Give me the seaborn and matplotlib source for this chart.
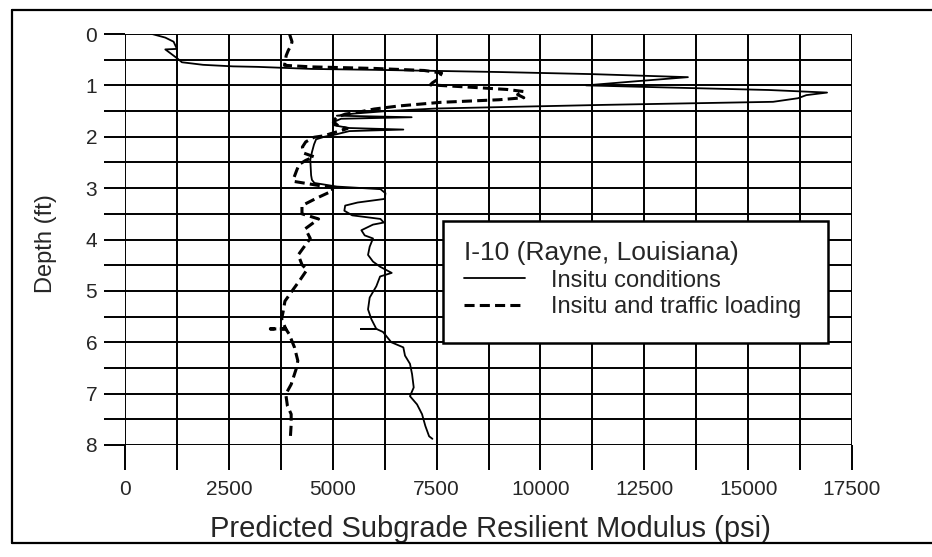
import numpy as np
import pandas as pd
import seaborn as sns
import matplotlib as mpl
import matplotlib.pyplot as plt
from matplotlib.patches import Rectangle
from matplotlib.lines import Line2D
from matplotlib.ticker import MultipleLocator

# values (depth in ft, modulus in psi)
depth_insitu = [0.00, 0.07, 0.15, 0.29, 0.30, 0.47, 0.55, 0.60, 0.63, 0.64, 0.66, 0.68,
                0.70, 0.74, 0.78, 0.84, 0.92, 1.00, 1.04, 1.09, 1.14, 1.19, 1.25, 1.32,
                1.38, 1.45, 1.50, 1.55, 1.59, 1.62, 1.65, 1.72, 1.78, 1.83, 1.86, 1.89,
                1.95, 2.00, 2.05, 2.15, 2.30, 2.45, 2.60, 2.75, 2.84, 2.90, 2.97, 3.02,
                3.10, 3.21, 3.28, 3.34, 3.44, 3.53, 3.60, 3.67, 3.71, 3.82, 3.92, 3.98,
                4.14, 4.30, 4.43, 4.53, 4.65, 4.72, 4.91, 5.13, 5.36, 5.55, 5.74, 5.74,
                5.74, 5.80, 6.00, 6.10, 6.26, 6.42, 6.62, 6.88, 7.05, 7.21, 7.40, 7.63,
                7.83, 7.88]
mr_insitu = [650, 970, 1170, 1250, 970, 1250, 1370, 1880, 2600, 3200, 3850, 4500,
             6200, 9000, 11200, 13550, 12300, 11100, 13000, 15500, 16900, 16400, 16200, 15600,
             11500, 7500, 6300, 5500, 5100, 6900, 5200, 5000, 5050, 5400, 6700, 5400,
             5100, 4800, 4600, 4550, 4500, 4460, 4470, 4480, 4500, 4560, 5100, 6150,
             6270, 6250, 5600, 5300, 5280, 5470, 6150, 6230, 5970, 5690, 5770, 5970,
             5890, 5850, 5970, 6140, 6420, 6140, 6050, 5890, 5850, 5930, 6050, 5680,
             6050, 6210, 6410, 6700, 6740, 6860, 6910, 6950, 6860, 7030, 7150, 7230,
             7320, 7400]

depth_traffic = [0.00, 0.05, 0.15, 0.22, 0.32, 0.42, 0.52, 0.61, 0.64, 0.67, 0.71, 0.76,
                 0.82, 0.88, 0.95, 0.99, 1.03, 1.08, 1.12, 1.18, 1.24, 1.28, 1.33, 1.40,
                 1.46, 1.51, 1.56, 1.62, 1.67, 1.73, 1.80, 1.84, 1.88, 1.94, 1.98, 2.01,
                 2.10, 2.20, 2.32, 2.39, 2.46, 2.54, 2.66, 2.79, 2.87, 2.94, 2.99, 3.05,
                 3.20, 3.34, 3.50, 3.60, 3.79, 3.98, 4.11, 4.30, 4.49, 4.59, 4.78, 4.97,
                 5.20, 5.39, 5.55, 5.74, 5.74, 5.74, 5.84, 6.10, 6.36, 6.52, 6.82, 7.01,
                 7.24, 7.40, 7.60, 7.86]
mr_traffic = [3960, 3980, 4020, 4000, 3930, 3880, 3860, 3840, 4500, 6000, 7200, 7620,
              7580, 7530, 7400, 7350, 8200, 9200, 9600, 9450, 9600, 9000, 7600, 6600,
              6000, 5690, 5300, 5100, 5040, 5050, 5150, 5350, 5200, 4950, 4800, 4550,
              4350, 4270, 4310, 4550, 4350, 4190, 4130, 4070, 4070, 4600, 4980, 5000,
              4600, 4260, 4260, 4660, 4340, 4460, 4340, 4170, 4260, 4380, 4220, 4050,
              3850, 3810, 3770, 3870, 3500, 3870, 3950, 4080, 4160, 4120, 4000, 3870,
              3910, 4000, 4000, 3980]

xticks = [0, 2500, 5000, 7500, 10000, 12500, 15000, 17500]
yticks = [0, 1, 2, 3, 4, 5, 6, 7, 8]

sns.set_theme(style="white")
plt.rcParams["font.family"] = ["Liberation Sans", "DejaVu Sans"]

fig = plt.figure(figsize=(9.32, 5.57), dpi=100)
ax = fig.add_axes([125 / 932, 1 - 445 / 557, 727 / 932, 411 / 557])

sns.lineplot(x=mr_insitu, y=depth_insitu, sort=False, estimator=None, ax=ax,
             color="black", lw=1.3, label="Insitu conditions")
sns.lineplot(x=mr_traffic, y=depth_traffic, sort=False, estimator=None, ax=ax,
             color="black", lw=2.2, linestyle=(0, (3.3, 1.7)),
             label="Insitu and traffic loading")

ax.set_xlim(0, 17500)
ax.set_ylim(8, 0)
ax.set_xticks(xticks)
ax.set_yticks(yticks)
ax.xaxis.set_minor_locator(MultipleLocator(1250))
ax.yaxis.set_minor_locator(MultipleLocator(0.5))
ax.grid(True, which="both", color="black", lw=1.4)
ax.set_axisbelow(True)
for s in ax.spines.values():
    s.set_visible(False)

ax.tick_params(axis="x", which="both", direction="out", length=18, width=1.4,
               color="black", bottom=True, pad=7, labelsize=15)
ax.tick_params(axis="y", which="both", direction="out", length=15, width=1.4,
               color="black", left=True, pad=5, labelsize=15)
ax.tick_params(axis="both", which="minor", labelleft=False, labelbottom=False)

ax.set_xlabel("Predicted Subgrade Resilient Modulus (psi)", fontsize=21)
ax.set_ylabel("Depth (ft)", fontsize=17)
ax.xaxis.set_label_coords(0.503, -0.17)
ax.yaxis.set_label_coords(-0.094, 0.49)

# legend box
box = Rectangle((0.437, 0.248), 0.530, 0.297, transform=ax.transAxes,
                facecolor="white", edgecolor="black", lw=1.8, zorder=5)
ax.add_patch(box)
handles, labels = ax.get_legend_handles_labels()
leg = ax.legend(handles, labels, title="I-10 (Rayne, Louisiana)", loc="upper left",
                bbox_to_anchor=(0.450, 0.525), frameon=False, fontsize=17,
                title_fontsize=19, alignment="left", borderpad=0,
                handlelength=2.6, handletextpad=1.1, labelspacing=0.2)
leg.set_zorder(6)

# outer frame of the scanned figure
for xs, ys in [((12 / 932, 12 / 932), (14 / 557, 547 / 557)),
               ((12 / 932, 1.0), (547 / 557, 547 / 557)),
               ((12 / 932, 1.0), (14 / 557, 14 / 557))]:
    fig.add_artist(Line2D(xs, ys, transform=fig.transFigure, color="black", lw=1.6))

fig.savefig("out.png", dpi=100)
